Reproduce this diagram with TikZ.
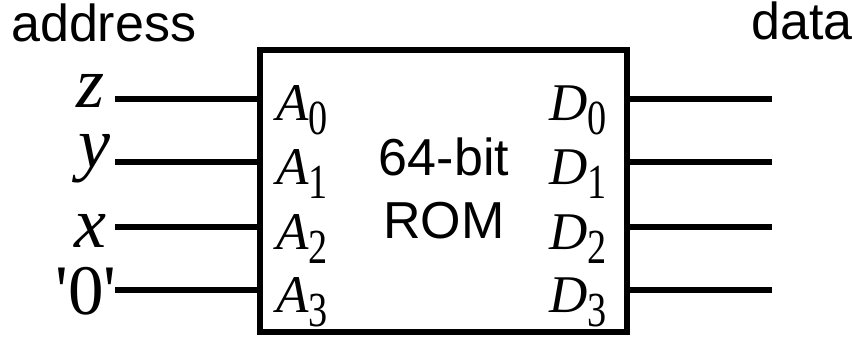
\documentclass[tikz,border=0pt]{standalone}
\usepackage{fontspec}
\usepackage{graphicx}
\setmainfont{Liberation Sans}
\newfontfamily\tms{Liberation Serif}
\newcommand{\sig}[2]{{\fontsize{53}{53}\selectfont\tms\itshape #1}\raisebox{-14pt}{\scalebox{0.78}[1]{\fontsize{49}{49}\selectfont\tms #2}}}
\begin{document}
\begin{tikzpicture}[x=1pt,y=-1pt,
  wire/.style={line width=5.5pt},
  boxstyle/.style={draw, line width=5.5pt, rectangle, minimum width=367pt, minimum height=282pt, inner sep=0pt},
  sans/.style={font=\fontsize{52}{52}\selectfont},
  var/.style={anchor=base east, font=\fontsize{72}{72}\selectfont\tms\itshape, inner sep=0pt},
  pin/.style={inner sep=0pt}]
\useasboundingbox (0,0) rectangle (852,337);
\node[boxstyle] (rom) at (443.5,191) {};
\node[font=\fontsize{52}{63}\selectfont, align=center, anchor=base] (title) at (444,238) {64-bit\\ROM};
\node[sans, anchor=base west, inner sep=0pt] (addr) at (11,42) {address};
\node[sans, anchor=base east, inner sep=0pt] (data) at (853,40) {data};
% inputs
\foreach \i/\yy in {0/99,1/162,2/227,3/290}{
  \coordinate (in\i) at (115,\yy);
  \coordinate (out\i) at (772,\yy);
  \draw[wire] (in\i) -- (in\i -| rom.west);
  \draw[wire] (out\i -| rom.east) -- (out\i);
  \node[pin, anchor=base west] (a\i) at (276,{\yy+22}) {\sig{A}{\i}};
  \node[pin, anchor=base east] (d\i) at (607,{\yy+22}) {\sig{D}{\i}};
}
\node[var] (lz) at (105,107) {z};
\node[var] (ly) at (111,167) {y};
\node[var] (lx) at (107,247) {x};
\node[var, font=\fontsize{71}{71}\selectfont\tms] (l0) at (117,314) {\textquotesingle0\textquotesingle};
\end{tikzpicture}
\end{document}
